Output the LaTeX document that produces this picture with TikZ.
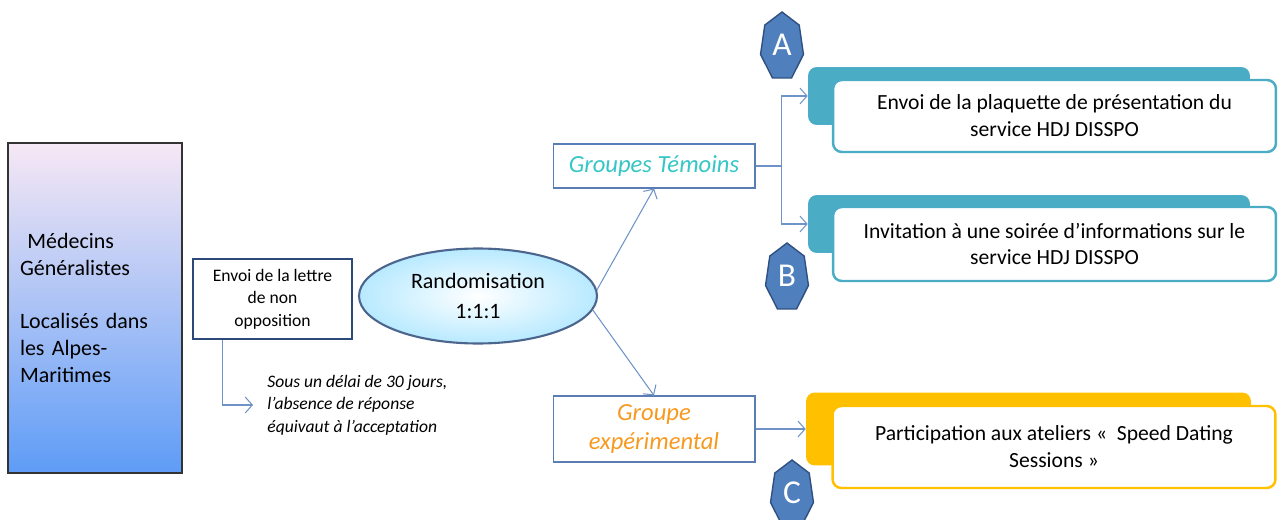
\documentclass[tikz,border=0pt]{standalone}
\usepackage{fontspec}
\setmainfont{Carlito}
\usetikzlibrary{shapes.geometric, arrows.meta}
\definecolor{arrowblue}{HTML}{6F93C9}
\definecolor{boxblue}{HTML}{5A7DB5}
\definecolor{navy}{HTML}{2C4A78}
\definecolor{tealbox}{HTML}{4BACC6}
\definecolor{gold}{HTML}{FFC000}
\definecolor{turq}{HTML}{35C6C6}
\definecolor{orangetxt}{HTML}{F7991F}
\definecolor{badgefill}{HTML}{4F7FBC}
\definecolor{badgeline}{HTML}{2F5080}
\definecolor{lavender}{HTML}{F6E8F5}
\definecolor{skyblue}{HTML}{AACDF6}
\definecolor{deepsky}{HTML}{5E9CF6}

\begin{document}
\begin{tikzpicture}[x=0.02cm, y=-0.02cm, >={Straight Barb[length=4pt, width=9pt]},
    link/.style = {->, arrowblue, line width=0.6pt},
    group/.style = {draw=boxblue, line width=0.6pt, minimum width=4.04cm, align=center, font=\itshape\fontsize{14}{17}\selectfont},
    back/.style = {rounded corners=5pt, minimum width=8.84cm, minimum height=1.16cm},
    front/.style = {draw, fill=white, rounded corners=5pt, line width=1.4pt, minimum width=8.86cm, align=center, font=\fontsize{12.3}{15.3}\selectfont},
    badge/.style = {fill=badgefill, draw=badgeline, line width=0.8pt},
    letter/.style = {text=white, font=\fontsize{19}{19}\selectfont}]

    \useasboundingbox (0,0) rectangle (1284,520);

    \node[draw=black!80, line width=1pt, top color=lavender, middle color=skyblue, bottom color=deepsky,
          minimum width=3.48cm, minimum height=6.6cm, text width=3.0cm, align=left,
          font=\fontsize{12.5}{15.3}\selectfont] (1) at (95,308)
          {\ Médecins\\Généralistes\\[15.3pt]Localisés dans\\les Alpes-\\Maritimes};
    \node[draw=navy, line width=1.1pt, minimum width=3.18cm, minimum height=1.6cm, align=center,
          font=\fontsize{10}{12.8}\selectfont] (2) at (272.5,299)
          {Envoi de la lettre\\de non\\opposition};
    \node[ellipse, draw=navy!85, line width=1.2pt, inner color=white, outer color=blue!30!cyan!28,
          minimum width=4.76cm, minimum height=1.9cm, align=center,
          font=\fontsize{12.5}{17}\selectfont] (3) at (478,296) {Randomisation\\1:1:1};
    \node[group, minimum height=0.88cm, text=turq] (4) at (654,166) {Groupes Témoins};
    \node[group, minimum height=1.32cm, text=orangetxt] (5) at (654,429) {Groupe\\expérimental};
    \node[anchor=west, inner xsep=0.28cm, align=left,
          font=\itshape\fontsize{10}{12.8}\selectfont] (6) at (253,405)
          {Sous un délai de 30 jours,\\l’absence de réponse\\équivaut à l’acceptation};

    \node[back, fill=tealbox] (7) at (1029,96) {};
    \node[front, draw=tealbox, minimum height=1.44cm] (8) at (1054.5,116)
          {Envoi de la plaquette de présentation du\\service HDJ DISSPO};
    \node[back, fill=tealbox] (9) at (1029,224) {};
    \node[front, draw=tealbox, minimum height=1.48cm] (10) at (1054.5,244)
          {Invitation à une soirée d’informations sur le\\service HDJ DISSPO};
    \node[back, fill=gold, minimum width=8.9cm, minimum height=1.46cm] (11) at (1028.5,429) {};
    \node[front, draw=gold, minimum height=1.64cm] (12) at (1054,447)
          {Participation aux ateliers «~ Speed Dating\\Sessions »};

    \filldraw[badge, shift={(782,46.7)}, xscale=22, yscale=34.7] (-90:1) \foreach \k in {1,...,6} { -- (-90+\k*360/7:1) } -- cycle;
    \filldraw[badge, shift={(787,277.7)}, xscale=22, yscale=34.7] (-90:1) \foreach \k in {1,...,6} { -- (-90+\k*360/7:1) } -- cycle;
    \filldraw[badge, shift={(792,494.7)}, xscale=22, yscale=34.7] (-90:1) \foreach \k in {1,...,6} { -- (-90+\k*360/7:1) } -- cycle;
    \node[letter] (13) at (782,45) {A};
    \node[letter] (14) at (787,276) {B};
    \node[letter] (15) at (792,493) {C};

    \draw[link] ([xshift=0.6cm]2.south west) |- (6.west);
    \draw[link] (3.3) -- (4.south);
    \draw[link] (3.-7) -- (5.north);
    \draw[link] (4.east) -- ++(26,0) |- (7.west);
    \draw[link] (4.east) -- ++(26,0) |- (9.west);
    \draw[link] (5.east) -- (11.west);
\end{tikzpicture}
\end{document}
